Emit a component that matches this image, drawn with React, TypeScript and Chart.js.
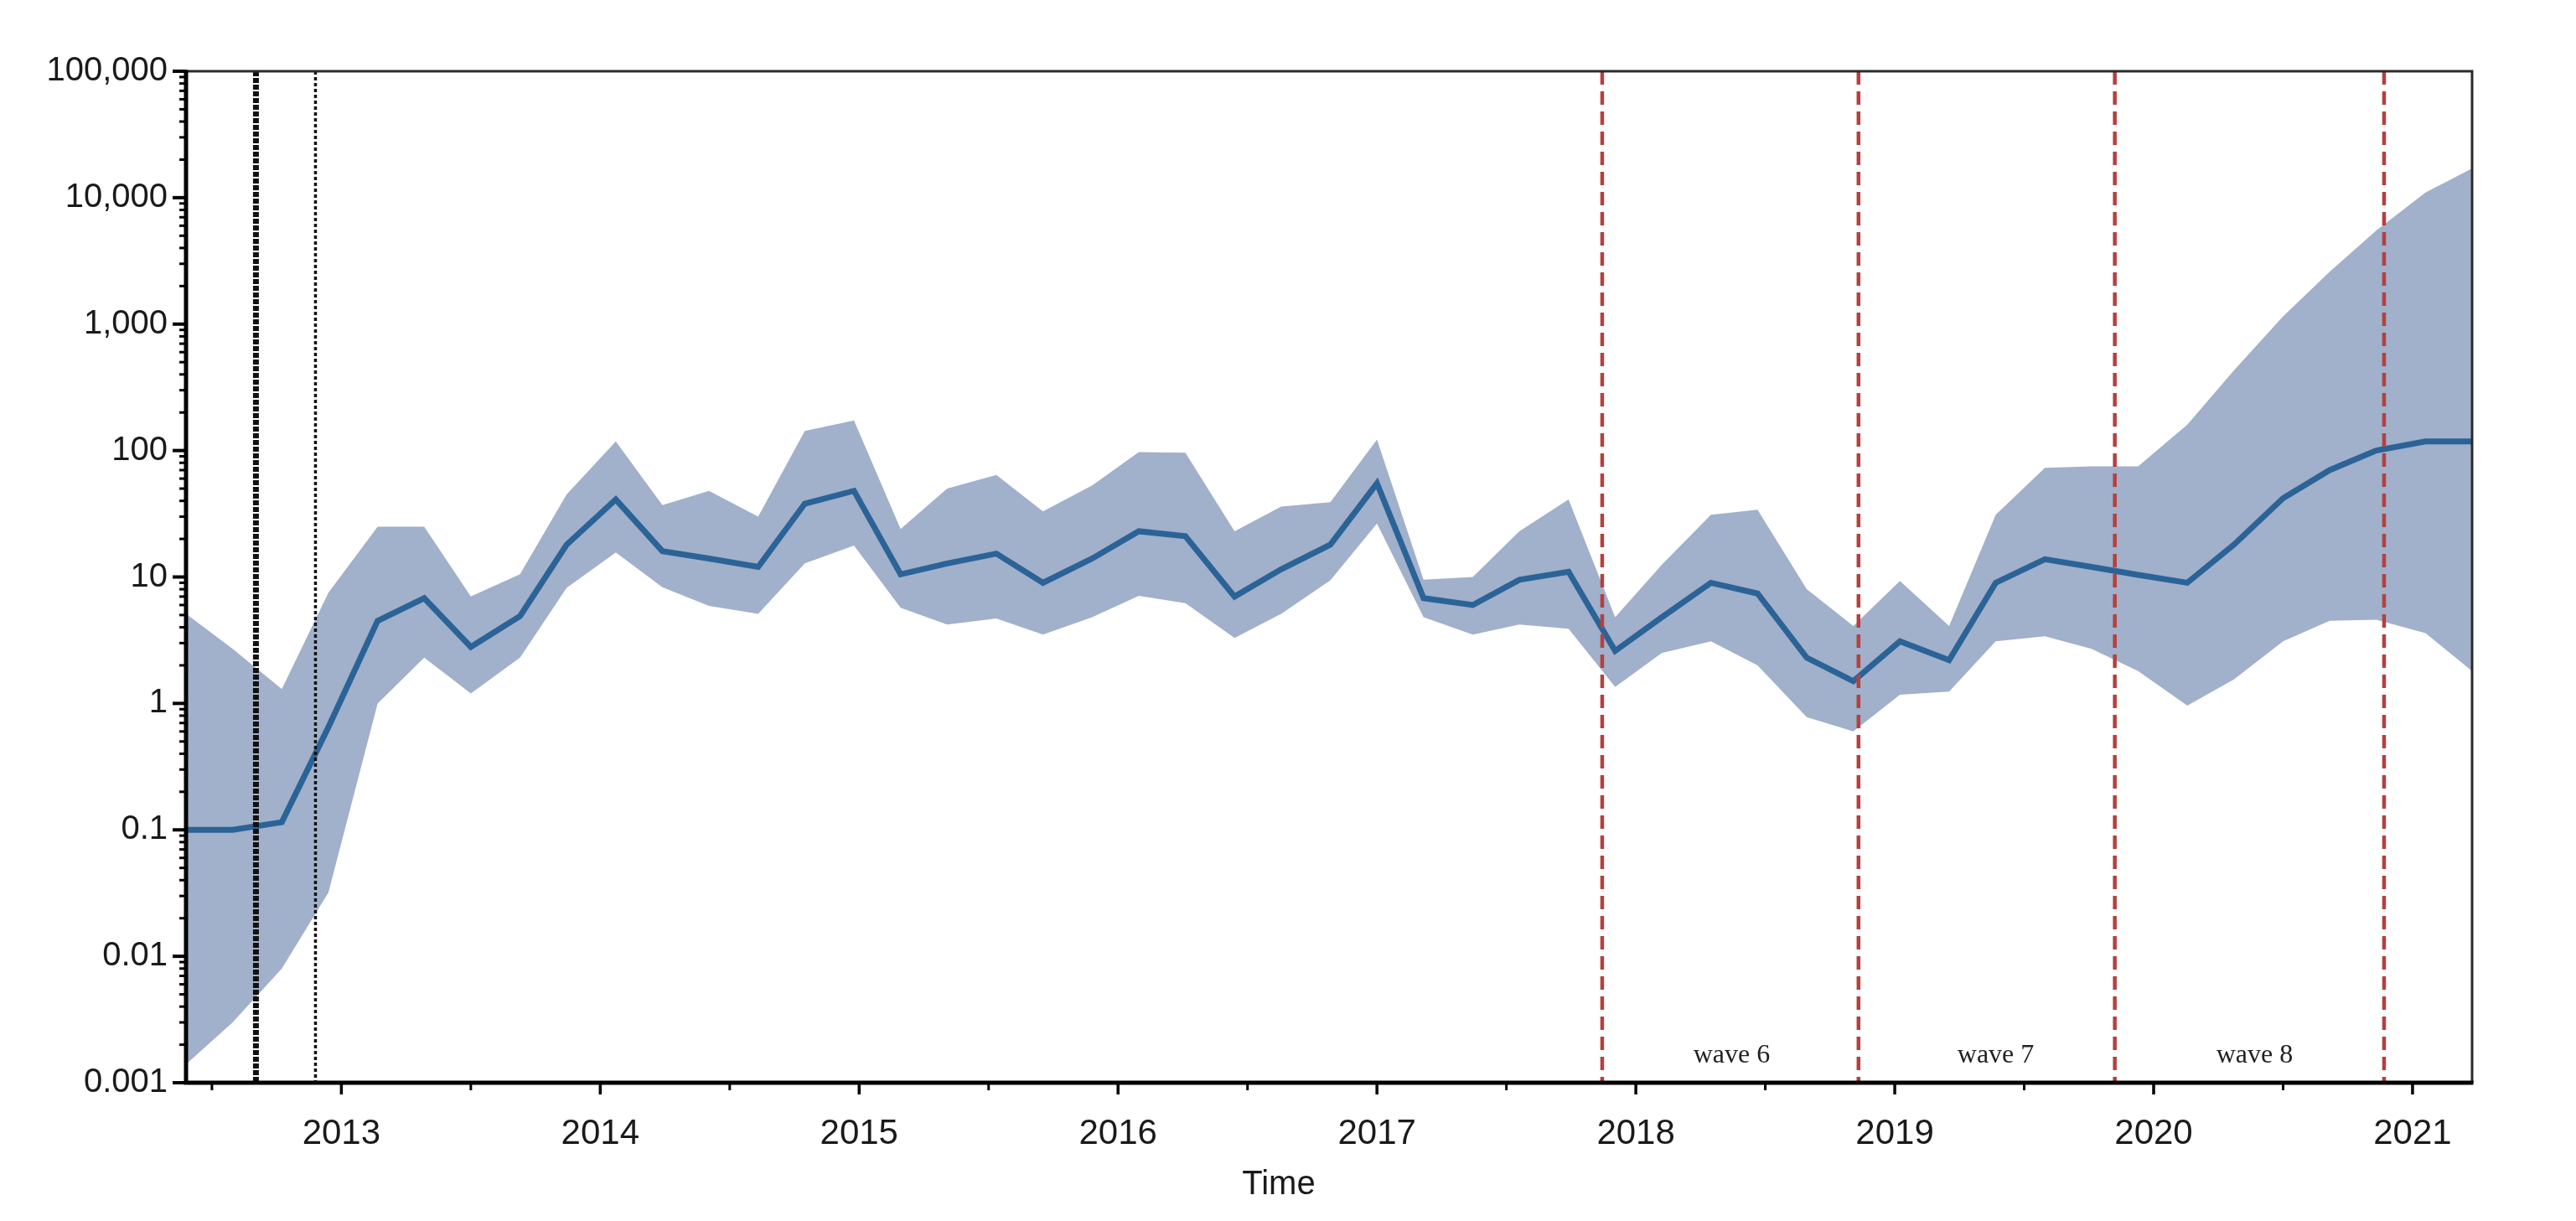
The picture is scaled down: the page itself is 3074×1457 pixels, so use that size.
import React, { useEffect, useRef } from 'react';
import { Chart, registerables } from 'chart.js';

Chart.register(...registerables);

// ---- data ----
const times = [
  2012.40, 2012.58, 2012.77, 2012.95, 2013.14, 2013.32, 2013.50, 2013.69, 2013.87, 2014.06,
  2014.24, 2014.42, 2014.61, 2014.79, 2014.98, 2015.16, 2015.34, 2015.53, 2015.71, 2015.90,
  2016.08, 2016.26, 2016.45, 2016.63, 2016.82, 2017.00, 2017.18, 2017.37, 2017.55, 2017.74,
  2017.92, 2018.10, 2018.29, 2018.47, 2018.66, 2018.84, 2019.02, 2019.21, 2019.39, 2019.58,
  2019.76, 2019.94, 2020.13, 2020.31, 2020.50, 2020.68, 2020.86, 2021.05, 2021.23,
];

const meanValues = [
  0.1, 0.1, 0.115, 0.65, 4.5, 6.8, 2.8, 4.9, 18, 41,
  16, 14, 12, 38, 48, 10.5, 12.8, 15.3, 9, 14,
  23, 21, 7, 11.5, 18, 55, 6.8, 6, 9.5, 11,
  2.6, 4.8, 9, 7.4, 2.3, 1.5, 3.1, 2.2, 9, 13.8,
  12, 10.4, 9, 18, 42, 70, 100, 118, 118,
];

const upperValues = [
  5.1, 2.7, 1.3, 7.5, 25, 25, 7, 10.5, 45, 118,
  37, 48, 30, 143, 173, 24, 50, 64, 33, 53,
  97, 96, 23, 36, 39, 122, 9.5, 10, 23, 41,
  4.8, 12.5, 31, 34, 8, 4.1, 9.3, 4.1, 31, 73,
  75, 75, 160, 430, 1150, 2600, 5500, 11000, 17000,
];

const lowerValues = [
  0.0014, 0.003, 0.008, 0.032, 1.0, 2.3, 1.2, 2.3, 8.2, 15.6,
  8.3, 5.9, 5.1, 12.8, 17.7, 5.7, 4.2, 4.7, 3.5, 4.8,
  7.1, 6.2, 3.3, 5.1, 9.4, 26.5, 4.8, 3.5, 4.2, 3.9,
  1.35, 2.5, 3.1, 2.0, 0.78, 0.6, 1.17, 1.24, 3.1, 3.4,
  2.7, 1.8, 0.96, 1.55, 3.1, 4.5, 4.6, 3.6, 1.8,
];

const yTickValues = [0.001, 0.01, 0.1, 1, 10, 100, 1000, 10000, 100000];
const yTickLabels = ['0.001', '0.01', '0.1', '1', '10', '100', '1,000', '10,000', '100,000'];
const xTickYears = [2013, 2014, 2015, 2016, 2017, 2018, 2019, 2020, 2021];
const xMinorTicks = [2012.5, 2013.5, 2014.5, 2015.5, 2016.5, 2017.5, 2018.5, 2019.5, 2020.5];
const xMin = 2012.4;
const xMax = 2021.23;
const blackLineTimes = [2012.67, 2012.9];
const redLineTimes = [2017.87, 2018.86, 2019.85, 2020.89];
const waveLabels = ['wave 6', 'wave 7', 'wave 8'];
const waveLabelTimes = [2018.37, 2019.39, 2020.39];
const xTitle = 'Time';

// ---- styles ----
const BAND = '#A1B0CB';
const LINE = '#2B6397';
const RED = '#B5403E';
const SANS = '"Liberation Sans", Arial, sans-serif';
const SERIF = '"Liberation Serif", "Times New Roman", serif';

const decorPlugin = {
  id: 'decor',
  afterDatasetsDraw(chart: any) {
    const { ctx, chartArea, scales } = chart;
    const xs = scales.x;
    ctx.save();
    // black dotted lines
    blackLineTimes.forEach((t, i) => {
      const x = xs.getPixelForValue(t);
      ctx.beginPath();
      ctx.strokeStyle = '#111';
      ctx.lineWidth = i === 0 ? 7 : 3.5;
      ctx.setLineDash(i === 0 ? [6, 2] : [4, 3]);
      ctx.moveTo(x, chartArea.top);
      ctx.lineTo(x, chartArea.bottom);
      ctx.stroke();
    });
    // red dashed lines
    redLineTimes.forEach((t) => {
      const x = xs.getPixelForValue(t);
      ctx.beginPath();
      ctx.strokeStyle = RED;
      ctx.lineWidth = 4.5;
      ctx.setLineDash([16, 8]);
      ctx.moveTo(x, chartArea.top);
      ctx.lineTo(x, chartArea.bottom);
      ctx.stroke();
    });
    ctx.setLineDash([]);
    // wave labels
    ctx.fillStyle = '#222';
    ctx.font = `32px ${SERIF}`;
    ctx.textAlign = 'center';
    ctx.textBaseline = 'middle';
    waveLabels.forEach((lab, i) => {
      ctx.fillText(lab, xs.getPixelForValue(waveLabelTimes[i]), chartArea.bottom - 32);
    });
    ctx.restore();
  },
  afterDraw(chart: any) {
    const { ctx, chartArea, scales } = chart;
    const xs = scales.x;
    const ys = scales.y;
    const { left, right, top, bottom } = chartArea;
    ctx.save();
    ctx.setLineDash([]);
    // top & right borders (thin dark)
    ctx.strokeStyle = '#2a2a2a';
    ctx.lineWidth = 3;
    ctx.beginPath();
    ctx.moveTo(left, top);
    ctx.lineTo(right, top);
    ctx.lineTo(right, bottom);
    ctx.stroke();
    // left & bottom axes (thick black)
    ctx.strokeStyle = '#000';
    ctx.lineWidth = 5;
    ctx.beginPath();
    ctx.moveTo(left, top - 1.5);
    ctx.lineTo(left, bottom);
    ctx.lineTo(right + 1.5, bottom);
    ctx.stroke();
    // y ticks: majors + log minors
    ctx.lineWidth = 4;
    yTickValues.forEach((v) => {
      const y = ys.getPixelForValue(v);
      ctx.beginPath();
      ctx.moveTo(left - 16, y);
      ctx.lineTo(left, y);
      ctx.stroke();
    });
    ctx.lineWidth = 3;
    for (let d = 0; d < yTickValues.length - 1; d++) {
      for (let m = 2; m <= 9; m++) {
        const y = ys.getPixelForValue(yTickValues[d] * m);
        ctx.beginPath();
        ctx.moveTo(left - 8, y);
        ctx.lineTo(left, y);
        ctx.stroke();
      }
    }
    // x ticks
    ctx.lineWidth = 3.5;
    xTickYears.forEach((v) => {
      const x = xs.getPixelForValue(v);
      ctx.beginPath();
      ctx.moveTo(x, bottom);
      ctx.lineTo(x, bottom + 14);
      ctx.stroke();
    });
    ctx.lineWidth = 3;
    xMinorTicks.forEach((v) => {
      const x = xs.getPixelForValue(v);
      ctx.beginPath();
      ctx.moveTo(x, bottom);
      ctx.lineTo(x, bottom + 9);
      ctx.stroke();
    });
    // axis title
    ctx.fillStyle = '#1a1a1a';
    ctx.font = `40px ${SANS}`;
    ctx.textAlign = 'center';
    ctx.textBaseline = 'middle';
    ctx.fillText(xTitle, left + (right - left) * 0.478, bottom + 122);
    ctx.restore();
  },
};

export default function App() {
  const canvasRef = useRef<HTMLCanvasElement | null>(null);

  useEffect(() => {
    const canvas = canvasRef.current;
    if (!canvas) return;
    const pts = (vals: number[]) => times.map((t, i) => ({ x: t, y: vals[i] }));
    const chart = new Chart(canvas, {
      type: 'line',
      data: {
        datasets: [
          {
            label: 'mean',
            data: pts(meanValues),
            fill: false,
            borderColor: LINE,
            borderWidth: 7,
            borderJoinStyle: 'miter',
            pointRadius: 0,
            tension: 0,
            order: 0,
          },
          {
            label: 'upper',
            data: pts(upperValues),
            fill: '+1',
            backgroundColor: BAND,
            borderWidth: 0,
            borderColor: 'rgba(0,0,0,0)',
            pointRadius: 0,
            tension: 0,
            order: 1,
          },
          {
            label: 'lower',
            data: pts(lowerValues),
            fill: false,
            borderWidth: 0,
            borderColor: 'rgba(0,0,0,0)',
            pointRadius: 0,
            tension: 0,
            order: 2,
          },
        ],
      },
      options: {
        animation: false,
        responsive: true,
        maintainAspectRatio: false,
        events: [],
        layout: { padding: { left: 0, right: 116, top: 77, bottom: 0 } },
        plugins: {
          legend: { display: false },
          tooltip: { enabled: false },
        },
        scales: {
          x: {
            type: 'linear',
            min: xMin,
            max: xMax,
            afterBuildTicks: (s: any) => {
              s.ticks = xTickYears.map((v) => ({ value: v }));
            },
            afterFit: (s: any) => {
              s.height = 157;
            },
            ticks: {
              autoSkip: false,
              maxRotation: 0,
              padding: 22,
              color: '#1a1a1a',
              font: { family: SANS, size: 42 },
              callback: (v: any) => String(v),
            },
            grid: { display: false, drawTicks: true, tickLength: 14 },
            border: { display: false },
            title: { display: false },
          },
          y: {
            type: 'logarithmic',
            min: 0.001,
            max: 100000,
            afterBuildTicks: (s: any) => {
              s.ticks = yTickValues.map((v) => ({ value: v }));
            },
            afterFit: (s: any) => {
              s.width = 214;
            },
            ticks: {
              autoSkip: false,
              padding: 6,
              color: '#1a1a1a',
              font: { family: SANS, size: 40 },
              callback: (v: any) => {
                const idx = yTickValues.findIndex((t) => Math.abs(t - v) / t < 1e-6);
                return idx >= 0 ? yTickLabels[idx] : '';
              },
            },
            grid: { display: false, drawTicks: true, tickLength: 16 },
            border: { display: false },
          },
        },
      },
      plugins: [decorPlugin],
    });
    return () => chart.destroy();
  }, []);

  return (
    <div style={{ width: '100%', height: '1441px', position: 'relative', background: '#fff' }}>
      <canvas ref={canvasRef} />
    </div>
  );
}
